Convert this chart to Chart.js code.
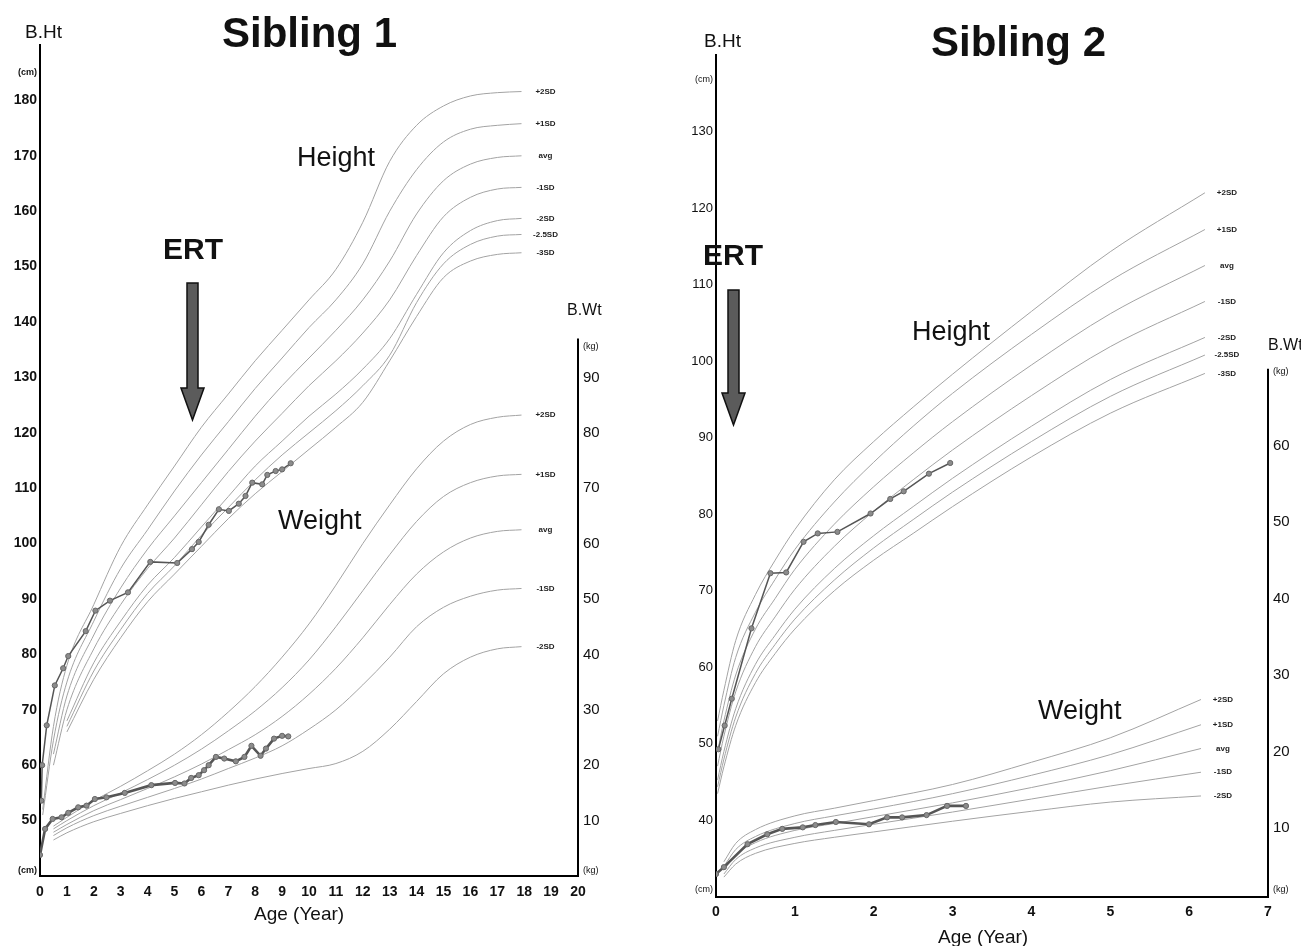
<!DOCTYPE html>
<html>
<head>
<meta charset="utf-8">
<title>Sibling growth charts</title>
<script src="https://cdn.jsdelivr.net/npm/chart.js@4.4.1/dist/chart.umd.min.js"></script>
<style>
  body { margin: 0; background: #fff; width: 1301px; height: 946px; overflow: hidden; position: relative;
         font-family: "Liberation Sans", Arial, sans-serif; }
  canvas { position: absolute; top: 0; }
  #chart1 { left: 0; }
  #chart2 { left: 650px; }
  .lbl { position: absolute; line-height: 1; white-space: nowrap; color: #111; }
  .title { font-size: 42px; font-weight: bold; }
  .ax { font-size: 19px; }
  .big { font-size: 27px; }
  .ert { font-size: 30px; font-weight: bold; }
  .wt { font-size: 16px; }
  svg { position: absolute; }
</style>
</head>
<body>
<canvas id="chart1" width="650" height="946"></canvas>
<canvas id="chart2" width="651" height="946"></canvas>

<div class="lbl title" style="left:222px;top:12px">Sibling 1</div>
<div class="lbl title" style="left:931px;top:21px">Sibling 2</div>
<div class="lbl ax" style="left:25px;top:22px">B.Ht</div>
<div class="lbl ax" style="left:704px;top:31px">B.Ht</div>
<div class="lbl big" style="left:297px;top:144px">Height</div>
<div class="lbl big" style="left:912px;top:318px">Height</div>
<div class="lbl big" style="left:278px;top:507px">Weight</div>
<div class="lbl big" style="left:1038px;top:697px">Weight</div>
<div class="lbl ert" style="left:163px;top:234px">ERT</div>
<div class="lbl ert" style="left:703px;top:240px">ERT</div>
<div class="lbl wt" style="left:567px;top:302px">B.Wt</div>
<div class="lbl wt" style="left:1268px;top:337px">B.Wt</div>
<div class="lbl ax" style="left:254px;top:904px">Age (Year)</div>
<div class="lbl ax" style="left:938px;top:927px">Age (Year)</div>

<svg style="left:180px;top:282px" width="26" height="140">
  <path d="M7 1 H18 V106 H24 L12.5 138 L1 106 H7 Z" fill="#5b5b5b" stroke="#111" stroke-width="1.5"/>
</svg>
<svg style="left:721px;top:289px" width="26" height="140">
  <path d="M7 1 H18 V104 H24 L12.5 136 L1 104 H7 Z" fill="#5b5b5b" stroke="#111" stroke-width="1.5"/>
</svg>

<script>
// ---------- Sibling 1 : reference curves (age in years) ----------
const s1CurveAges = [0.1, 0.5, 1, 2, 3, 4, 5, 6, 7, 8, 9, 10, 11, 12, 13, 14, 15, 16, 17, 17.9];
const s1HtP2  = [52, 67, 78, 89, 99.5, 107, 114, 121, 127, 133, 138.5, 144, 149.5, 158, 169, 175.5, 179, 180.8, 181.4, 181.6];
const s1HtP1  = [51, 64.5, 75, 86, 95.5, 102.5, 109.5, 116, 122, 128, 133.5, 139, 144, 150.5, 160, 167.5, 172.5, 174.8, 175.5, 175.8];
const s1HtAvg = [null, 62, 72.5, 83.5, 92, 99, 105, 111, 117, 123, 128.5, 133.5, 138.5, 144, 151, 159.5, 165.5, 168.5, 169.7, 170];
const s1HtM1  = [null, 60, 70, 81, 89, 95.5, 101, 107, 113, 118.5, 123.5, 128.5, 133, 138, 144, 152, 159, 162.5, 164, 164.3];
const s1HtM2  = [null, null, 68, 78.5, 86, 92.5, 97.5, 103, 108.5, 114, 118.5, 123, 127, 131.5, 137, 145, 152.5, 156.5, 158.3, 158.7];
const s1HtM25 = [null, null, 67, 77, 84.5, 91, 96, 101.5, 106.5, 111.5, 116, 120, 124, 128.5, 134, 143.5, 150.5, 154, 155.5, 155.8];
const s1HtM3  = [null, null, 66, 75.5, 83, 89.5, 94.5, 99.5, 104.5, 109, 113, 117, 121, 125.5, 133, 141, 148, 151, 152.2, 152.5];

const s1WtP2  = [null, 9, 10.6, 13.6, 16.2, 19, 22, 25.5, 29.6, 34.2, 39.5, 45.5, 52.5, 60, 67, 73.5, 78.5, 81.5, 82.8, 83.2];
const s1WtP1  = [null, 8.5, 10, 12.7, 15, 17.4, 20, 22.9, 26.2, 29.8, 34, 39, 45, 51.5, 58, 64, 68.5, 71, 72.2, 72.5];
const s1WtAvg = [null, 7.9, 9.3, 11.8, 13.8, 15.8, 17.9, 20.2, 22.8, 25.5, 28.8, 32.8, 37.5, 43, 49, 54.5, 58.5, 61, 62.2, 62.5];
const s1WtM1  = [null, 7.3, 8.7, 10.9, 12.6, 14.2, 15.8, 17.5, 19.4, 21.3, 23.5, 26.5, 30, 34.5, 39.5, 45, 48.5, 50.5, 51.6, 51.9];
const s1WtM2  = [null, 6.5, 7.8, 9.8, 11.3, 12.7, 14, 15.2, 16.4, 17.5, 18.5, 19.4, 20.3, 22.5, 26.5, 31.5, 36.5, 39.5, 41, 41.4];

// Sibling 1 : measurements
const s1HtAge = [0.05, 0.08, 0.25, 0.55, 0.86, 1.05, 1.7, 2.06, 2.6, 3.27, 4.1, 5.1, 5.65, 5.9, 6.27, 6.65, 7.02, 7.39, 7.64, 7.89, 8.26, 8.45, 8.76, 9.0, 9.32];
const s1Ht    = [53.6, 60, 67.2, 74.4, 77.5, 79.7, 84.2, 87.9, 89.7, 91.2, 96.7, 96.5, 99, 100.3, 103.4, 106.2, 105.9, 107.2, 108.6, 111, 110.7, 112.4, 113.1, 113.4, 114.5];
const s1WtAge = [0, 0.19, 0.47, 0.8, 1.05, 1.42, 1.73, 2.04, 2.47, 3.15, 4.14, 5.02, 5.37, 5.62, 5.9, 6.1, 6.27, 6.54, 6.85, 7.28, 7.6, 7.86, 8.2, 8.4, 8.7, 9.0, 9.23];
const s1Wt    = [3.8, 8.5, 10.3, 10.6, 11.4, 12.4, 12.7, 13.9, 14.2, 15, 16.4, 16.8, 16.7, 17.7, 18.2, 19.1, 20, 21.5, 21.2, 20.7, 21.5, 23.5, 21.7, 23, 24.8, 25.3, 25.2];

// ---------- Sibling 2 : reference curves ----------
const s2HtAges = [0.02, 0.1, 0.25, 0.5, 0.75, 1, 1.5, 2, 2.5, 3, 4, 5, 6.2];
const s2HtP2  = [53, 57, 63.5, 69.5, 74, 78, 84.5, 89.5, 94, 98.3, 106.5, 114.3, 122];
const s2HtP1  = [51, 55, 61.3, 67.2, 71.5, 75.4, 81.6, 86.8, 91.5, 95.8, 103.5, 110.5, 117.2];
const s2HtAvg = [49, 53, 59, 65, 69, 72.8, 78.7, 83.6, 88, 92.1, 99.5, 106.2, 112.5];
const s2HtM1  = [47.1, 51, 56.8, 62.7, 66.6, 70.2, 75.8, 80.4, 84.5, 88.4, 95.5, 101.9, 107.8];
const s2HtM2  = [45.3, 49, 54.6, 60.4, 64.2, 67.6, 72.9, 77.2, 81, 84.7, 91.5, 97.6, 103.1];
const s2HtM25 = [44.4, 48, 53.5, 59.2, 63, 66.3, 71.4, 75.6, 79.3, 82.9, 89.5, 95.4, 100.8];
const s2HtM3  = [43.5, 47, 52.4, 58, 61.8, 65, 70, 74, 77.5, 81, 87.5, 93.2, 98.4];

const s2WtAges = [0.1, 0.25, 0.5, 1, 1.5, 2, 3, 4, 5, 6.15];
const s2WtP2  = [5.6, 8, 9.8, 11.6, 12.6, 13.6, 15.7, 18.6, 21.8, 26.8];
const s2WtP1  = [5, 7.2, 8.9, 10.6, 11.6, 12.5, 14.5, 16.9, 19.6, 23.5];
const s2WtAvg = [4.5, 6.5, 8.1, 9.7, 10.6, 11.5, 13.3, 15.3, 17.5, 20.4];
const s2WtM1  = [4, 5.9, 7.4, 8.8, 9.7, 10.5, 12.1, 13.8, 15.5, 17.3];
const s2WtM2  = [3.6, 5.3, 6.7, 8, 8.8, 9.5, 10.9, 12.2, 13.4, 14.2];

// Sibling 2 : measurements
const s2HtAge = [0.03, 0.11, 0.2, 0.45, 0.69, 0.89, 1.11, 1.29, 1.54, 1.96, 2.21, 2.38, 2.7, 2.97];
const s2Ht    = [49.3, 52.4, 55.9, 65.1, 72.3, 72.4, 76.4, 77.5, 77.7, 80.1, 82, 83, 85.3, 86.7];
const s2WtAge = [0, 0.1, 0.4, 0.65, 0.84, 1.1, 1.26, 1.52, 1.94, 2.17, 2.36, 2.67, 2.93, 3.17];
const s2Wt    = [4.0, 4.9, 7.9, 9.2, 9.9, 10.1, 10.4, 10.8, 10.5, 11.4, 11.4, 11.7, 12.9, 12.9];

const htLabels = ['+2SD', '+1SD', 'avg', '-1SD', '-2SD', '-2.5SD', '-3SD'];
const wtLabels = ['+2SD', '+1SD', 'avg', '-1SD', '-2SD'];

const FONT = '"Liberation Sans", Arial, sans-serif';

function toPoints(ages, vals) {
    return ages.map((a, i) => vals[i] == null ? null : { x: a, y: vals[i] }).filter(p => p);
}

function curve(ages, vals, label, axis) {
    return {
        data: toPoints(ages, vals),
        sdLabel: label,
        yAxisID: axis,
        borderColor: '#a3a3a3',
        borderWidth: 1,
        pointRadius: 0,
        cubicInterpolationMode: 'monotone',
        order: 2
    };
}

function measured(ages, vals, axis, width) {
    return {
        data: toPoints(ages, vals),
        yAxisID: axis,
        borderColor: '#555',
        borderWidth: width,
        pointRadius: 2.6,
        pointBackgroundColor: '#8c8c8c',
        pointBorderColor: '#666',
        pointBorderWidth: 1,
        tension: 0,
        order: 1
    };
}

// curve-end labels (+2SD, avg ...)
const sdLabelPlugin = {
    id: 'sdLabels',
    afterDatasetsDraw(chart, args, opts) {
        const ctx = chart.ctx;
        ctx.save();
        ctx.font = 'bold 8px ' + FONT;
        ctx.fillStyle = '#222';
        ctx.textAlign = 'center';
        ctx.textBaseline = 'middle';
        chart.data.datasets.forEach((ds, i) => {
            if (!ds.sdLabel) return;
            const pts = chart.getDatasetMeta(i).data;
            const p = pts[pts.length - 1];
            ctx.fillText(ds.sdLabel, p.x + opts.dx, p.y);
        });
        ctx.restore();
    }
};

// weight axis line only covers the lower part of the plot
const wtAxisPlugin = {
    id: 'wtAxis',
    afterDraw(chart, args, opts) {
        const s = chart.scales.yW;
        const ctx = chart.ctx;
        ctx.save();
        ctx.strokeStyle = '#000';
        ctx.lineWidth = 2;
        ctx.beginPath();
        ctx.moveTo(s.left, s.getPixelForValue(opts.top));
        ctx.lineTo(s.left, chart.chartArea.bottom + 1);
        ctx.stroke();
        ctx.restore();
    }
};

function makeChart(id, cfg) {
    const htUnit = [cfg.htMin + cfg.cmBottom, cfg.cmTop];
    const wtUnit = [cfg.wtMin + cfg.kgBottom, cfg.kgTop];
    return new Chart(document.getElementById(id), {
        type: 'line',
        data: { datasets: cfg.datasets },
        options: {
            responsive: false,
            animation: false,
            events: [],
            layout: { padding: { top: cfg.top, left: 0, right: 0, bottom: 0 } },
            plugins: {
                legend: { display: false },
                tooltip: { enabled: false },
                sdLabels: { dx: cfg.labelDx },
                wtAxis: { top: cfg.wtLine }
            },
            scales: {
                x: {
                    type: 'linear', min: 0, max: cfg.xMax,
                    grid: { display: false, drawTicks: false },
                    border: { display: true, color: '#000', width: 2 },
                    ticks: { stepSize: 1, padding: cfg.xPad, autoSkip: false, maxRotation: 0, color: '#111',
                             font: { family: FONT, size: 14, weight: 'bold' } },
                    afterFit: s => { s.height = cfg.xH; }
                },
                y: {
                    type: 'linear', position: 'left', min: cfg.htMin, max: cfg.htMax,
                    grid: { display: false, drawTicks: false },
                    border: { display: true, color: '#000', width: 2 },
                    afterBuildTicks: s => { s.ticks = cfg.htTicks.concat(htUnit).map(v => ({ value: v })); },
                    ticks: {
                        autoSkip: false, padding: 3, color: '#111',
                        callback: v => htUnit.includes(v) ? '(cm)' : v,
                        font: c => ({ family: FONT, size: htUnit.includes(c.tick && c.tick.value) ? 9 : cfg.htFont,
                                      weight: cfg.htBold ? 'bold' : 'normal' })
                    },
                    afterFit: s => { s.width = cfg.yW; }
                },
                yW: {
                    type: 'linear', position: 'right', min: cfg.wtMin, max: cfg.wtMin + (cfg.htMax - cfg.htMin),
                    grid: { display: false, drawTicks: false },
                    border: { display: false },
                    afterBuildTicks: s => { s.ticks = cfg.wtTicks.concat(wtUnit).map(v => ({ value: v })); },
                    ticks: {
                        autoSkip: false, padding: 5, color: '#111',
                        callback: v => wtUnit.includes(v) ? '(kg)' : v,
                        font: c => ({ family: FONT, size: wtUnit.includes(c.tick && c.tick.value) ? 9 : 15 })
                    },
                    afterFit: s => { s.width = cfg.wW; }
                }
            }
        },
        plugins: [sdLabelPlugin, wtAxisPlugin]
    });
}

const s1Ht_curves = [s1HtP2, s1HtP1, s1HtAvg, s1HtM1, s1HtM2, s1HtM25, s1HtM3];
const s1Wt_curves = [s1WtP2, s1WtP1, s1WtAvg, s1WtM1, s1WtM2];
const s2Ht_curves = [s2HtP2, s2HtP1, s2HtAvg, s2HtM1, s2HtM2, s2HtM25, s2HtM3];
const s2Wt_curves = [s2WtP2, s2WtP1, s2WtAvg, s2WtM1, s2WtM2];

makeChart('chart1', {
    top: 45, xH: 70, yW: 40, wW: 72, xPad: 8, xMax: 20, labelDx: 24,
    htMin: 40, htMax: 190, htTicks: [50, 60, 70, 80, 90, 100, 110, 120, 130, 140, 150, 160, 170, 180],
    cmBottom: 1, cmTop: 185, htFont: 14, htBold: true,
    wtMin: 0, wtTicks: [10, 20, 30, 40, 50, 60, 70, 80, 90], kgBottom: 1, kgTop: 95.5, wtLine: 97,
    datasets: [
        ...s1Ht_curves.map((v, i) => curve(s1CurveAges, v, htLabels[i], 'y')),
        ...s1Wt_curves.map((v, i) => curve(s1CurveAges, v, wtLabels[i], 'yW')),
        measured(s1HtAge, s1Ht, 'y', 1.5),
        measured(s1WtAge, s1Wt, 'yW', 2.6)
    ]
});

makeChart('chart2', {
    top: 55, xH: 49, yW: 66, wW: 33, xPad: 7, xMax: 7, labelDx: 22,
    htMin: 30, htMax: 140, htTicks: [40, 50, 60, 70, 80, 90, 100, 110, 120, 130],
    cmBottom: 1, cmTop: 136.8, htFont: 13, htBold: false,
    wtMin: 1, wtTicks: [10, 20, 30, 40, 50, 60], kgBottom: 1, kgTop: 69.6, wtLine: 70,
    datasets: [
        ...s2Ht_curves.map((v, i) => curve(s2HtAges, v, htLabels[i], 'y')),
        ...s2Wt_curves.map((v, i) => curve(s2WtAges, v, wtLabels[i], 'yW')),
        measured(s2HtAge, s2Ht, 'y', 1.5),
        measured(s2WtAge, s2Wt, 'yW', 2.6)
    ]
});
</script>
</body>
</html>
